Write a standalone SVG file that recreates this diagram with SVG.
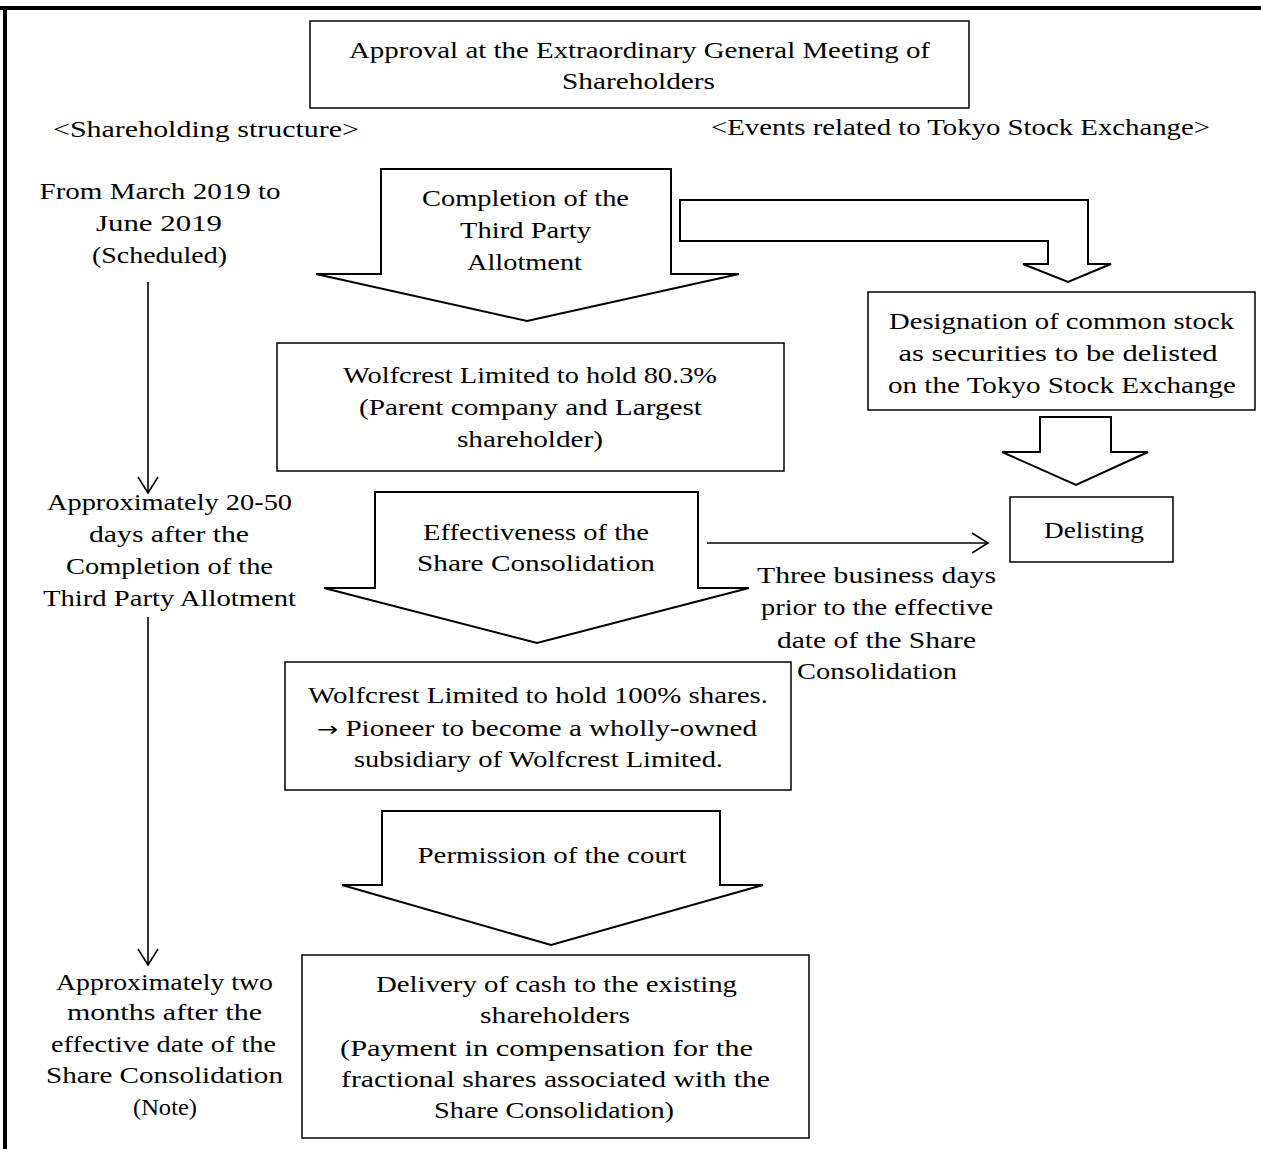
<svg xmlns="http://www.w3.org/2000/svg" width="1261" height="1149" viewBox="0 0 1261 1149">
<defs>
<style>
.bx{fill:#fff;stroke:#000;stroke-width:1.5}
.ba{fill:#fff;stroke:#000;stroke-width:2;stroke-linejoin:miter}
.ln{fill:none;stroke:#000;stroke-width:1.6}
text{font-family:"Liberation Serif","Times New Roman",serif;font-size:23px;fill:#000;text-anchor:middle}
.sym{font-family:"DejaVu Sans",sans-serif;font-size:20px}
</style>
<marker id="ah" markerWidth="24" markerHeight="24" refX="20" refY="12" orient="auto" markerUnits="userSpaceOnUse">
<path d="M4,2 L20,12 L4,22" fill="none" stroke="#000" stroke-width="1.6"/>
</marker>
</defs>
<rect width="1261" height="1149" fill="#fff"/>
<g id="frame">
<line x1="0" y1="8" x2="1261" y2="8" stroke="#000" stroke-width="4"/>
<line x1="5" y1="6" x2="5" y2="1149" stroke="#000" stroke-width="4"/>
</g>
<g id="connectors">
<line class="ln" x1="148" y1="282" x2="148" y2="493" marker-end="url(#ah)"/>
<line class="ln" x1="148" y1="617" x2="148" y2="965" marker-end="url(#ah)"/>
<line class="ln" x1="707" y1="543" x2="988" y2="543" marker-end="url(#ah)"/>
</g>
<g id="approval">
<rect class="bx" x="310" y="21" width="659" height="87"/>
<text x="639.5" y="58" textLength="581" lengthAdjust="spacingAndGlyphs">Approval at the Extraordinary General Meeting of</text>
<text x="638.5" y="89" textLength="153" lengthAdjust="spacingAndGlyphs">Shareholders</text>
</g>
<g id="hdr-left"><text x="206" y="137" textLength="306" lengthAdjust="spacingAndGlyphs">&lt;Shareholding structure&gt;</text></g>
<g id="hdr-right"><text x="960.5" y="135" textLength="499" lengthAdjust="spacingAndGlyphs">&lt;Events related to Tokyo Stock Exchange&gt;</text></g>
<g id="time1">
<text x="160" y="199" textLength="241" lengthAdjust="spacingAndGlyphs">From March 2019 to</text>
<text x="159" y="231" textLength="126" lengthAdjust="spacingAndGlyphs">June 2019</text>
<text x="159.5" y="263" textLength="135" lengthAdjust="spacingAndGlyphs">(Scheduled)</text>
</g>
<g id="arrow-allotment">
<path class="ba" d="M381,169 L671,169 L671,274 L739,274 L527,321 L316,274 L381,274 Z"/>
<text x="525.5" y="206" textLength="207" lengthAdjust="spacingAndGlyphs">Completion of the</text>
<text x="525.5" y="238" textLength="131" lengthAdjust="spacingAndGlyphs">Third Party</text>
<text x="524.5" y="270" textLength="115" lengthAdjust="spacingAndGlyphs">Allotment</text>
</g>
<g id="arrow-bent">
<path class="ba" d="M680,200 L1088,200 L1088,264 L1111,264 L1068,282 L1023,264 L1048,264 L1048,241 L680,241 Z"/>
</g>
<g id="designation">
<rect class="bx" x="868" y="292" width="387" height="118"/>
<text x="1061.5" y="329" textLength="345" lengthAdjust="spacingAndGlyphs">Designation of common stock</text>
<text x="1058" y="361" textLength="319" lengthAdjust="spacingAndGlyphs">as securities to be delisted</text>
<text x="1062" y="393" textLength="348" lengthAdjust="spacingAndGlyphs">on the Tokyo Stock Exchange</text>
</g>
<g id="arrow-delist">
<path class="ba" d="M1040,417 L1111,417 L1111,452 L1148,452 L1076,485 L1002,452 L1040,452 Z"/>
</g>
<g id="delisting">
<rect class="bx" x="1010" y="497" width="163" height="65"/>
<text x="1094" y="538" textLength="100" lengthAdjust="spacingAndGlyphs">Delisting</text>
</g>
<g id="hold80">
<rect class="bx" x="277" y="343" width="507" height="128"/>
<text x="530" y="383" textLength="374" lengthAdjust="spacingAndGlyphs">Wolfcrest Limited to hold 80.3%</text>
<text x="530.5" y="415" textLength="343" lengthAdjust="spacingAndGlyphs">(Parent company and Largest</text>
<text x="530" y="447" textLength="146" lengthAdjust="spacingAndGlyphs">shareholder)</text>
</g>
<g id="time2">
<text x="169.5" y="510" textLength="245" lengthAdjust="spacingAndGlyphs">Approximately 20-50</text>
<text x="169" y="542" textLength="160" lengthAdjust="spacingAndGlyphs">days after the</text>
<text x="169.5" y="574" textLength="207" lengthAdjust="spacingAndGlyphs">Completion of the</text>
<text x="169.5" y="606" textLength="253" lengthAdjust="spacingAndGlyphs">Third Party Allotment</text>
</g>
<g id="arrow-consolidation">
<path class="ba" d="M375,492 L698,492 L698,588 L749,588 L537,643 L324,588 L375,588 Z"/>
<text x="536" y="540" textLength="226" lengthAdjust="spacingAndGlyphs">Effectiveness of the</text>
<text x="536" y="571" textLength="238" lengthAdjust="spacingAndGlyphs">Share Consolidation</text>
</g>
<g id="delist-note">
<text x="876.5" y="583" textLength="239" lengthAdjust="spacingAndGlyphs">Three business days</text>
<text x="877" y="615" textLength="232" lengthAdjust="spacingAndGlyphs">prior to the effective</text>
<text x="876.5" y="648" textLength="199" lengthAdjust="spacingAndGlyphs">date of the Share</text>
<text x="877" y="679" textLength="160" lengthAdjust="spacingAndGlyphs">Consolidation</text>
</g>
<g id="hold100">
<rect class="bx" x="285" y="662" width="506" height="128"/>
<text x="538" y="703" textLength="460" lengthAdjust="spacingAndGlyphs">Wolfcrest Limited to hold 100% shares.</text>
<text x="537" y="736" textLength="440" lengthAdjust="spacingAndGlyphs"><tspan class="sym">→</tspan> Pioneer to become a wholly-owned</text>
<text x="538.5" y="767" textLength="369" lengthAdjust="spacingAndGlyphs">subsidiary of Wolfcrest Limited.</text>
</g>
<g id="arrow-court">
<path class="ba" d="M382,811 L720,811 L720,885 L763,885 L551,945 L342,885 L382,885 Z"/>
<text x="552" y="863" textLength="269" lengthAdjust="spacingAndGlyphs">Permission of the court</text>
</g>
<g id="time3">
<text x="164.5" y="990" textLength="217" lengthAdjust="spacingAndGlyphs">Approximately two</text>
<text x="164.5" y="1020" textLength="195" lengthAdjust="spacingAndGlyphs">months after the</text>
<text x="163.5" y="1052" textLength="225" lengthAdjust="spacingAndGlyphs">effective date of the</text>
<text x="164.5" y="1083" textLength="237" lengthAdjust="spacingAndGlyphs">Share Consolidation</text>
<text x="165" y="1115" textLength="64" lengthAdjust="spacingAndGlyphs">(Note)</text>
</g>
<g id="delivery">
<rect class="bx" x="302" y="955" width="507" height="183"/>
<text x="556.5" y="992" textLength="361" lengthAdjust="spacingAndGlyphs">Delivery of cash to the existing</text>
<text x="555" y="1023" textLength="150" lengthAdjust="spacingAndGlyphs">shareholders</text>
<text x="546.5" y="1056" textLength="413" lengthAdjust="spacingAndGlyphs">(Payment in compensation for the</text>
<text x="555.5" y="1087" textLength="429" lengthAdjust="spacingAndGlyphs">fractional shares associated with the</text>
<text x="554" y="1118" textLength="240" lengthAdjust="spacingAndGlyphs">Share Consolidation)</text>
</g>
</svg>
